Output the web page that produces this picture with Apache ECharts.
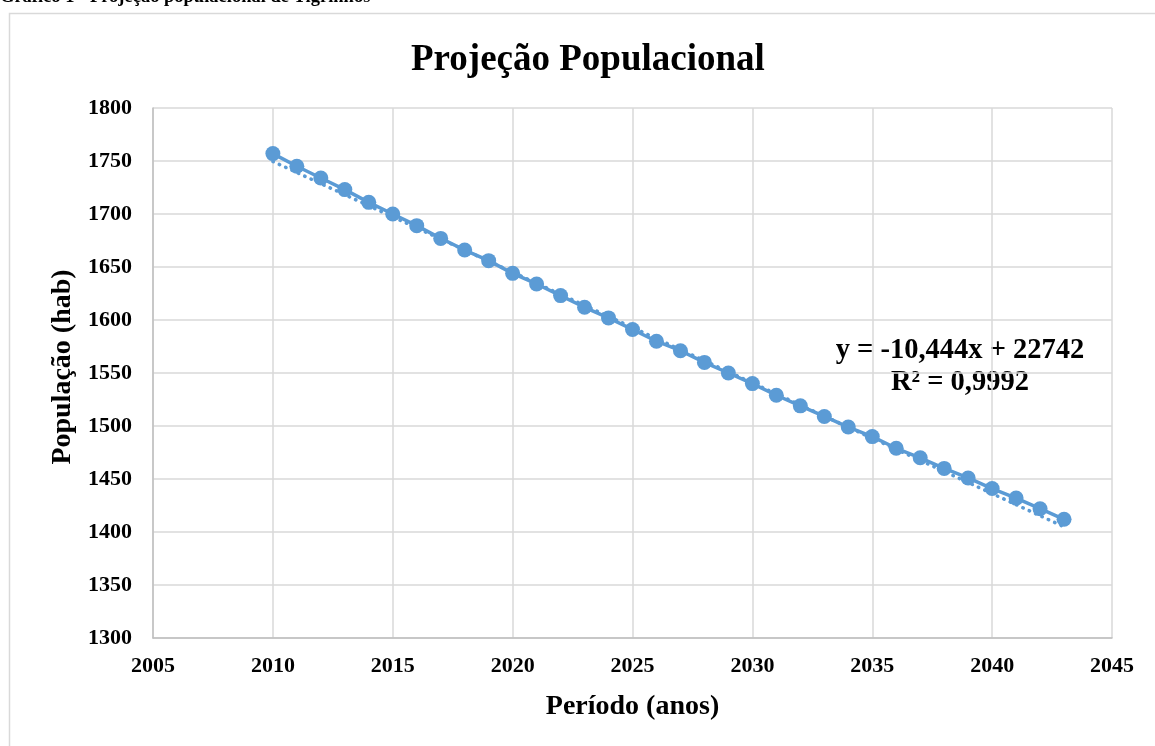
<!DOCTYPE html>
<html>
<head>
<meta charset="utf-8">
<script src="https://cdn.jsdelivr.net/npm/echarts@6/dist/echarts.min.js"></script>
<style>
  html, body { margin: 0; padding: 0; background: #fff; }
  #chart { width: 1155px; height: 746px; }
</style>
</head>
<body>
<div id="chart"></div>
<script>
// Years of the projection
const years = [2010, 2011, 2012, 2013, 2014, 2015, 2016, 2017, 2018, 2019,
               2020, 2021, 2022, 2023, 2024, 2025, 2026, 2027, 2028, 2029,
               2030, 2031, 2032, 2033, 2034, 2035, 2036, 2037, 2038, 2039,
               2040, 2041, 2042, 2043];
// Projected population (inhabitants)
const population = [1757, 1745, 1734, 1723, 1711, 1700, 1689, 1677, 1666, 1656,
                    1644, 1634, 1623, 1612, 1602, 1591, 1580, 1571, 1560, 1550,
                    1540, 1529, 1519, 1509, 1499, 1490, 1479, 1470, 1460, 1451,
                    1441, 1432, 1422, 1412];
// Linear trendline coefficients (as labelled)
const trendSlope = -10.444;
const trendIntercept = 22742;
const trendLabel = ['y = -10,444x + 22742', 'R² = 0,9992'];

const FONT = '"Liberation Serif", "Times New Roman", serif';
const BLUE = '#5B9BD5';

const seriesData = years.map((y, i) => [y, population[i]]);
const trendData = [years[0], years[years.length - 1]].map(x => [x, trendSlope * x + trendIntercept]);

const tickLabel = { fontFamily: FONT, fontSize: 22, fontWeight: 'bold', color: '#000', formatter: v => String(v) };
const axisName = { fontFamily: FONT, fontSize: 28, fontWeight: 'bold', color: '#000' };

const chart = echarts.init(document.getElementById('chart'), null, { renderer: 'canvas' });
chart.setOption({
  animation: false,
  backgroundColor: '#fff',
  title: {
    text: 'Projeção Populacional',
    left: 406,
    top: 37,
    textStyle: { fontFamily: FONT, fontSize: 37, fontWeight: 'bold', color: '#000' }
  },
  graphic: [
    {
      type: 'rect',
      shape: { x: 9.5, y: 13.5, width: 1160, height: 760 },
      style: { fill: 'none', stroke: '#d9d9d9', lineWidth: 1.5 },
      silent: true
    },
    {
      type: 'text',
      left: 0,
      top: -12,
      style: {
        text: 'Gráfico 1 - Projeção populacional de Tigrinhos',
        font: 'bold 18.5px ' + FONT,
        fill: '#000'
      }
    },
    {
      type: 'text',
      x: 960,
      y: 367,
      style: {
        text: trendLabel.join('\n'),
        font: 'bold 28.5px ' + FONT,
        fill: '#000',
        align: 'center',
        verticalAlign: 'middle',
        lineHeight: 32
      }
    }
  ],
  grid: { left: 153, right: 43, top: 108, bottom: 108 },
  xAxis: {
    type: 'value',
    min: 2005,
    max: 2045,
    interval: 5,
    name: 'Período (anos)',
    nameLocation: 'middle',
    nameGap: 55,
    nameTextStyle: axisName,
    axisLine: { show: true, lineStyle: { color: '#bfbfbf', width: 1.5 } },
    axisTick: { show: false },
    splitLine: { show: true, lineStyle: { color: '#d9d9d9', width: 1.5 } },
    axisLabel: Object.assign({ margin: 17 }, tickLabel)
  },
  yAxis: {
    type: 'value',
    min: 1300,
    max: 1800,
    interval: 50,
    name: 'População (hab)',
    nameLocation: 'middle',
    nameGap: 64,
    nameTextStyle: Object.assign({ padding: [0, 0, 0, 12] }, axisName),
    axisLine: { show: true, lineStyle: { color: '#bfbfbf', width: 1.5 } },
    axisTick: { show: false },
    splitLine: { show: true, lineStyle: { color: '#d9d9d9', width: 1.5 } },
    axisLabel: Object.assign({ margin: 21 }, tickLabel)
  },
  series: [
    {
      name: 'População',
      type: 'line',
      data: seriesData,
      symbol: 'circle',
      symbolSize: 15,
      lineStyle: { color: BLUE, width: 3.5 },
      itemStyle: { color: BLUE },
      z: 3
    },
    {
      name: 'Tendência',
      type: 'line',
      data: trendData,
      symbol: 'none',
      lineStyle: { color: BLUE, width: 3.5, type: [0.5, 6.5], cap: 'round' },
      z: 2
    }
  ]
});
</script>
</body>
</html>
